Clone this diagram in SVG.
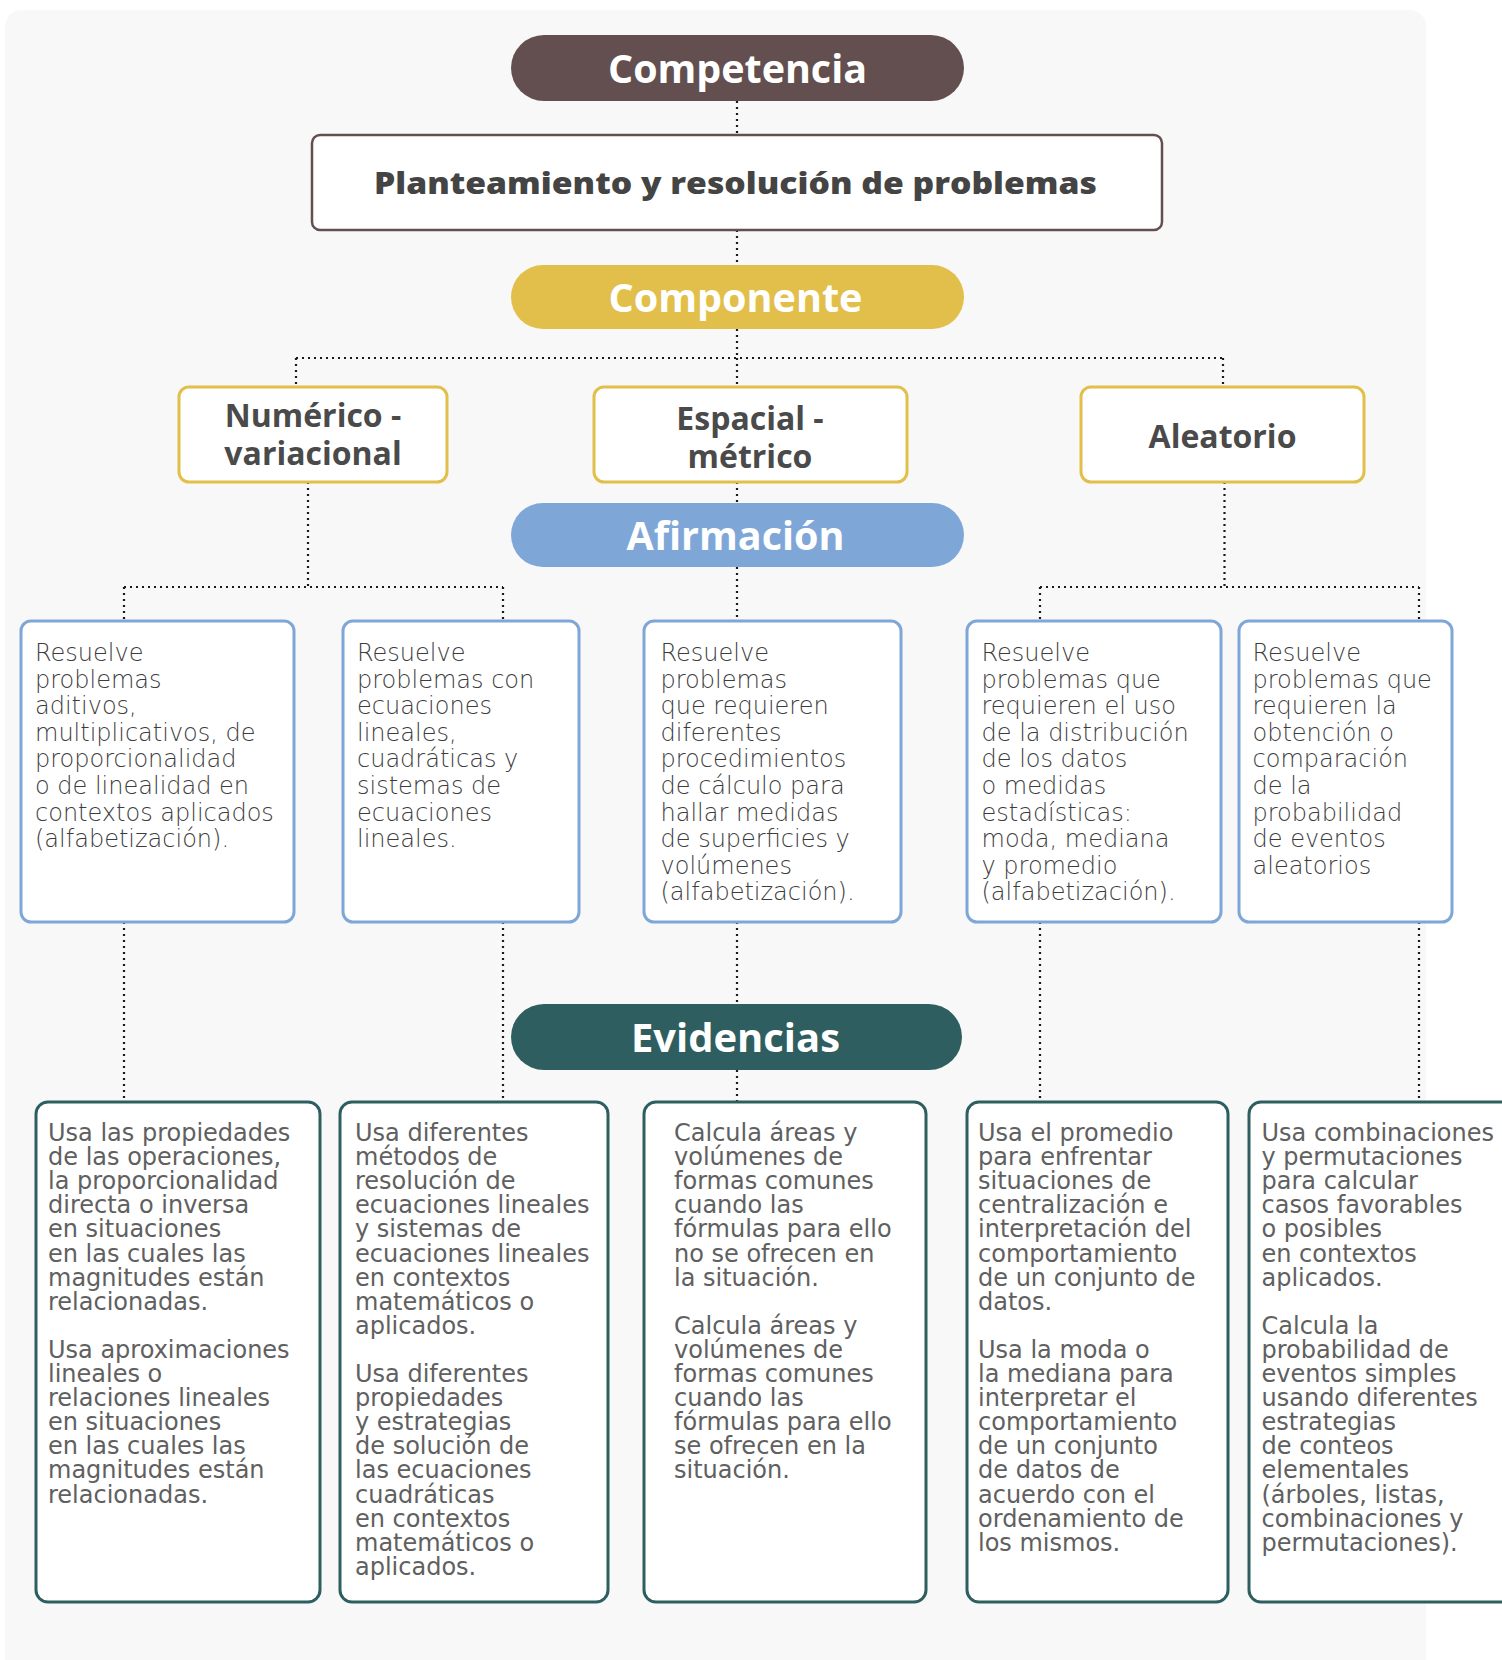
<svg xmlns="http://www.w3.org/2000/svg" width="1502" height="1660" viewBox="0 0 1502 1660">
<style>
.ptxt{font-family:"Open Sans","Liberation Sans",sans-serif;font-weight:700;font-size:40px;fill:#ffffff;text-anchor:middle}
.cbox{fill:#ffffff;stroke:#e2bf4a;stroke-width:3}
.ctxt{font-family:"Open Sans","Liberation Sans",sans-serif;font-weight:700;font-size:32px;fill:#4a4a4a;text-anchor:middle}
.abox{fill:#ffffff;stroke:#7ea7d8;stroke-width:3}
.atxt{font-family:"DejaVu Sans","Liberation Sans",sans-serif;font-weight:300;font-size:24px;fill:#3c3c3c}
.ebox{fill:#ffffff;stroke:#2e5e5f;stroke-width:3}
.etxt{font-family:"DejaVu Sans","Liberation Sans",sans-serif;font-weight:400;font-size:24px;fill:#606060}
.conn path{fill:none;stroke:#1a1a1a;stroke-width:2.2;stroke-dasharray:2 4}
</style>
<rect x="5" y="10" width="1421" height="1680" rx="16" fill="#f8f8f8"/>

<g id="connectors" class="conn">
<path d="M737 101V135"/>
<path d="M737 230V265"/>
<path d="M737 329V358"/>
<path d="M296 358H1223"/>
<path d="M296 358V387"/>
<path d="M737 358V387"/>
<path d="M1223 358V387"/>
<path d="M737 482V503"/>
<path d="M308 482V587"/>
<path d="M124 587H503"/>
<path d="M124 587V621"/>
<path d="M503 587V621"/>
<path d="M737 567V621"/>
<path d="M1224.5 482V587"/>
<path d="M1040 587H1419"/>
<path d="M1040 587V621"/>
<path d="M1419 587V621"/>
<path d="M124 922V1102"/>
<path d="M503 922V1102"/>
<path d="M737 922V1004"/>
<path d="M737 1070V1102"/>
<path d="M1040 922V1102"/>
<path d="M1419 922V1102"/>
</g>

<g id="competencia">
<rect x="511" y="35" width="453" height="66" rx="33" fill="#634f4f"/>
<text class="ptxt" x="737.5" y="83" textLength="259" lengthAdjust="spacingAndGlyphs">Competencia</text>
</g>

<g id="planteamiento">
<rect x="312" y="135" width="850" height="95" rx="8" fill="#ffffff" stroke="#634f4f" stroke-width="2.5"/>
<text x="735.5" y="194" text-anchor="middle" font-family="'Open Sans','Liberation Sans',sans-serif" font-weight="800" font-size="30" fill="#444444" textLength="723" lengthAdjust="spacingAndGlyphs">Planteamiento y resolución de problemas</text>
</g>

<g id="componente">
<rect x="511" y="265" width="453" height="64" rx="32" fill="#e2bf4a"/>
<text class="ptxt" x="735.5" y="312" textLength="254" lengthAdjust="spacingAndGlyphs">Componente</text>
</g>

<g id="numerico">
<rect class="cbox" x="179" y="387" width="268" height="95" rx="10"/>
<text class="ctxt" x="313" y="427">Numérico -</text>
<text class="ctxt" x="313" y="465">variacional</text>
</g>

<g id="espacial">
<rect class="cbox" x="594" y="387" width="313" height="95" rx="10"/>
<text class="ctxt" x="750" y="430">Espacial -</text>
<text class="ctxt" x="750" y="468">métrico</text>
</g>

<g id="aleatorio">
<rect class="cbox" x="1081" y="387" width="283" height="95" rx="10"/>
<text class="ctxt" x="1222.5" y="448">Aleatorio</text>
</g>

<g id="afirmacion">
<rect x="511" y="503" width="453" height="64" rx="32" fill="#7ea7d8"/>
<text class="ptxt" x="735.5" y="550" textLength="218" lengthAdjust="spacingAndGlyphs">Afirmación</text>
</g>

<g id="afirmacion-1">
<rect class="abox" x="21" y="621" width="273" height="301" rx="10"/>
<text class="atxt" x="35" y="661"><tspan x="35">Resuelve</tspan><tspan x="35" dy="26.6">problemas</tspan><tspan x="35" dy="26.6">aditivos,</tspan><tspan x="35" dy="26.6">multiplicativos, de</tspan><tspan x="35" dy="26.6">proporcionalidad</tspan><tspan x="35" dy="26.6">o de linealidad en</tspan><tspan x="35" dy="26.6">contextos aplicados</tspan><tspan x="35" dy="26.6">(alfabetización).</tspan></text>
</g>

<g id="afirmacion-2">
<rect class="abox" x="343" y="621" width="236" height="301" rx="10"/>
<text class="atxt" x="357" y="661"><tspan x="357">Resuelve</tspan><tspan x="357" dy="26.6">problemas con</tspan><tspan x="357" dy="26.6">ecuaciones</tspan><tspan x="357" dy="26.6">lineales,</tspan><tspan x="357" dy="26.6">cuadráticas y</tspan><tspan x="357" dy="26.6">sistemas de</tspan><tspan x="357" dy="26.6">ecuaciones</tspan><tspan x="357" dy="26.6">lineales.</tspan></text>
</g>

<g id="afirmacion-3">
<rect class="abox" x="644" y="621" width="257" height="301" rx="10"/>
<text class="atxt" x="660.5" y="661"><tspan x="660.5">Resuelve</tspan><tspan x="660.5" dy="26.6">problemas</tspan><tspan x="660.5" dy="26.6">que requieren</tspan><tspan x="660.5" dy="26.6">diferentes</tspan><tspan x="660.5" dy="26.6">procedimientos</tspan><tspan x="660.5" dy="26.6">de cálculo para</tspan><tspan x="660.5" dy="26.6">hallar medidas</tspan><tspan x="660.5" dy="26.6">de superficies y</tspan><tspan x="660.5" dy="26.6">volúmenes</tspan><tspan x="660.5" dy="26.6">(alfabetización).</tspan></text>
</g>

<g id="afirmacion-4">
<rect class="abox" x="967" y="621" width="254" height="301" rx="10"/>
<text class="atxt" x="981.5" y="661"><tspan x="981.5">Resuelve</tspan><tspan x="981.5" dy="26.6">problemas que</tspan><tspan x="981.5" dy="26.6">requieren el uso</tspan><tspan x="981.5" dy="26.6">de la distribución</tspan><tspan x="981.5" dy="26.6">de los datos</tspan><tspan x="981.5" dy="26.6">o medidas</tspan><tspan x="981.5" dy="26.6">estadísticas:</tspan><tspan x="981.5" dy="26.6">moda, mediana</tspan><tspan x="981.5" dy="26.6">y promedio</tspan><tspan x="981.5" dy="26.6">(alfabetización).</tspan></text>
</g>

<g id="afirmacion-5">
<rect class="abox" x="1239" y="621" width="213" height="301" rx="10"/>
<text class="atxt" x="1252.5" y="661"><tspan x="1252.5">Resuelve</tspan><tspan x="1252.5" dy="26.6">problemas que</tspan><tspan x="1252.5" dy="26.6">requieren la</tspan><tspan x="1252.5" dy="26.6">obtención o</tspan><tspan x="1252.5" dy="26.6">comparación</tspan><tspan x="1252.5" dy="26.6">de la</tspan><tspan x="1252.5" dy="26.6">probabilidad</tspan><tspan x="1252.5" dy="26.6">de eventos</tspan><tspan x="1252.5" dy="26.6">aleatorios</tspan></text>
</g>

<g id="evidencias">
<rect x="511" y="1004" width="451" height="66" rx="33" fill="#2e5e5f"/>
<text class="ptxt" x="735.5" y="1052" textLength="209" lengthAdjust="spacingAndGlyphs">Evidencias</text>
</g>

<g id="evidencia-1">
<rect class="ebox" x="36" y="1102" width="284" height="500" rx="12"/>
<text class="etxt" x="48" y="1141"><tspan x="48">Usa las propiedades</tspan><tspan x="48" dy="24.1">de las operaciones,</tspan><tspan x="48" dy="24.1">la proporcionalidad</tspan><tspan x="48" dy="24.1">directa o inversa</tspan><tspan x="48" dy="24.1">en situaciones</tspan><tspan x="48" dy="24.1">en las cuales las</tspan><tspan x="48" dy="24.1">magnitudes están</tspan><tspan x="48" dy="24.1">relacionadas.</tspan><tspan x="48" dy="48.2">Usa aproximaciones</tspan><tspan x="48" dy="24.1">lineales o</tspan><tspan x="48" dy="24.1">relaciones lineales</tspan><tspan x="48" dy="24.1">en situaciones</tspan><tspan x="48" dy="24.1">en las cuales las</tspan><tspan x="48" dy="24.1">magnitudes están</tspan><tspan x="48" dy="24.1">relacionadas.</tspan></text>
</g>

<g id="evidencia-2">
<rect class="ebox" x="340" y="1102" width="268" height="500" rx="12"/>
<text class="etxt" x="355" y="1141"><tspan x="355">Usa diferentes</tspan><tspan x="355" dy="24.1">métodos de</tspan><tspan x="355" dy="24.1">resolución de</tspan><tspan x="355" dy="24.1">ecuaciones lineales</tspan><tspan x="355" dy="24.1">y sistemas de</tspan><tspan x="355" dy="24.1">ecuaciones lineales</tspan><tspan x="355" dy="24.1">en contextos</tspan><tspan x="355" dy="24.1">matemáticos o</tspan><tspan x="355" dy="24.1">aplicados.</tspan><tspan x="355" dy="48.2">Usa diferentes</tspan><tspan x="355" dy="24.1">propiedades</tspan><tspan x="355" dy="24.1">y estrategias</tspan><tspan x="355" dy="24.1">de solución de</tspan><tspan x="355" dy="24.1">las ecuaciones</tspan><tspan x="355" dy="24.1">cuadráticas</tspan><tspan x="355" dy="24.1">en contextos</tspan><tspan x="355" dy="24.1">matemáticos o</tspan><tspan x="355" dy="24.1">aplicados.</tspan></text>
</g>

<g id="evidencia-3">
<rect class="ebox" x="644" y="1102" width="282" height="500" rx="12"/>
<text class="etxt" x="674" y="1141"><tspan x="674">Calcula áreas y</tspan><tspan x="674" dy="24.1">volúmenes de</tspan><tspan x="674" dy="24.1">formas comunes</tspan><tspan x="674" dy="24.1">cuando las</tspan><tspan x="674" dy="24.1">fórmulas para ello</tspan><tspan x="674" dy="24.1">no se ofrecen en</tspan><tspan x="674" dy="24.1">la situación.</tspan><tspan x="674" dy="48.2">Calcula áreas y</tspan><tspan x="674" dy="24.1">volúmenes de</tspan><tspan x="674" dy="24.1">formas comunes</tspan><tspan x="674" dy="24.1">cuando las</tspan><tspan x="674" dy="24.1">fórmulas para ello</tspan><tspan x="674" dy="24.1">se ofrecen en la</tspan><tspan x="674" dy="24.1">situación.</tspan></text>
</g>

<g id="evidencia-4">
<rect class="ebox" x="967" y="1102" width="261" height="500" rx="12"/>
<text class="etxt" x="978" y="1141"><tspan x="978">Usa el promedio</tspan><tspan x="978" dy="24.1">para enfrentar</tspan><tspan x="978" dy="24.1">situaciones de</tspan><tspan x="978" dy="24.1">centralización e</tspan><tspan x="978" dy="24.1">interpretación del</tspan><tspan x="978" dy="24.1">comportamiento</tspan><tspan x="978" dy="24.1">de un conjunto de</tspan><tspan x="978" dy="24.1">datos.</tspan><tspan x="978" dy="48.2">Usa la moda o</tspan><tspan x="978" dy="24.1">la mediana para</tspan><tspan x="978" dy="24.1">interpretar el</tspan><tspan x="978" dy="24.1">comportamiento</tspan><tspan x="978" dy="24.1">de un conjunto</tspan><tspan x="978" dy="24.1">de datos de</tspan><tspan x="978" dy="24.1">acuerdo con el</tspan><tspan x="978" dy="24.1">ordenamiento de</tspan><tspan x="978" dy="24.1">los mismos.</tspan></text>
</g>

<g id="evidencia-5">
<rect class="ebox" x="1249" y="1102" width="300" height="500" rx="12"/>
<text class="etxt" x="1261.5" y="1141"><tspan x="1261.5">Usa combinaciones</tspan><tspan x="1261.5" dy="24.1">y permutaciones</tspan><tspan x="1261.5" dy="24.1">para calcular</tspan><tspan x="1261.5" dy="24.1">casos favorables</tspan><tspan x="1261.5" dy="24.1">o posibles</tspan><tspan x="1261.5" dy="24.1">en contextos</tspan><tspan x="1261.5" dy="24.1">aplicados.</tspan><tspan x="1261.5" dy="48.2">Calcula la</tspan><tspan x="1261.5" dy="24.1">probabilidad de</tspan><tspan x="1261.5" dy="24.1">eventos simples</tspan><tspan x="1261.5" dy="24.1">usando diferentes</tspan><tspan x="1261.5" dy="24.1">estrategias</tspan><tspan x="1261.5" dy="24.1">de conteos</tspan><tspan x="1261.5" dy="24.1">elementales</tspan><tspan x="1261.5" dy="24.1">(árboles, listas,</tspan><tspan x="1261.5" dy="24.1">combinaciones y</tspan><tspan x="1261.5" dy="24.1">permutaciones).</tspan></text>
</g>
</svg>
